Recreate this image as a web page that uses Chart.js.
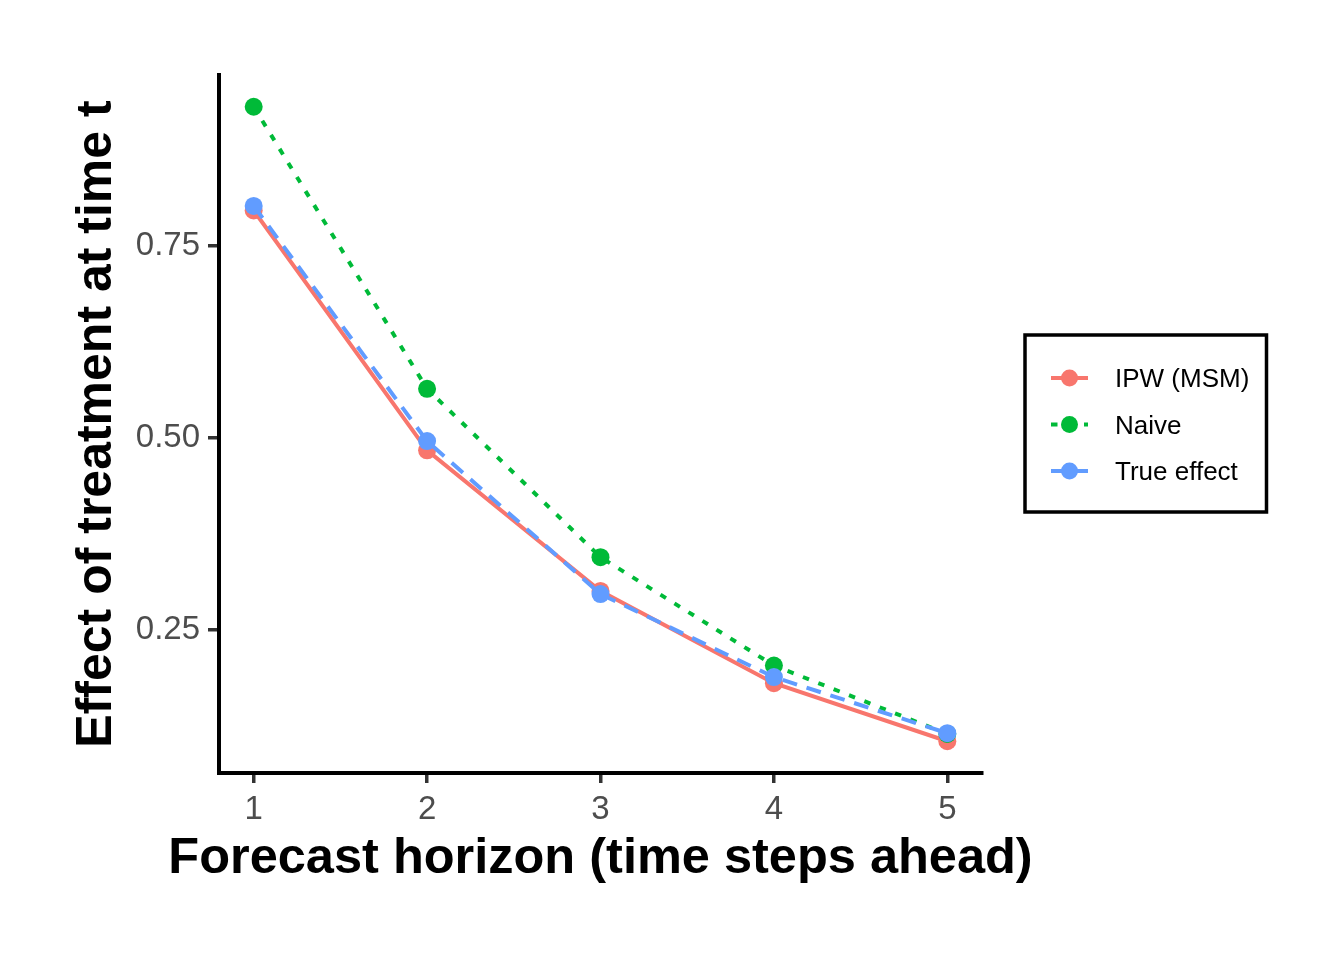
<!DOCTYPE html>
<html>
<head>
<meta charset="utf-8">
<script src="https://cdn.jsdelivr.net/npm/chart.js@4.4.1/dist/chart.umd.min.js"></script>
<style>
  html, body { margin: 0; padding: 0; background: #fff; }
  canvas { display: block; }
</style>
</head>
<body>
<canvas id="chart" width="1344" height="960"></canvas>
<script>
// Data
const horizons = [1, 2, 3, 4, 5];
const ipwMsm = [0.796, 0.484, 0.301, 0.181, 0.1055];
const naive = [0.931, 0.564, 0.345, 0.204, 0.115];
const trueEffect = [0.802, 0.496, 0.297, 0.189, 0.116];

const seriesNames = ['IPW (MSM)', 'Naive', 'True effect'];
const xTicks = [1, 2, 3, 4, 5];
const yTicks = [0.25, 0.50, 0.75];
const xTitle = 'Forecast horizon (time steps ahead)';
const yTitle = 'Effect of treatment at time t';

// Styling
const FONT = '"Liberation Sans", Arial, sans-serif';
const COLORS = ['#F8766D', '#00BA38', '#619CFF'];
const DASHES = [[], [6.5, 10], [15, 10]];
const LINE_W = 4;

function toPoints(values) {
  return horizons.map((h, i) => ({ x: h, y: values[i] }));
}

function makeDataset(label, values, idx, order) {
  return {
    label: label,
    data: toPoints(values),
    borderColor: COLORS[idx],
    backgroundColor: COLORS[idx],
    borderWidth: LINE_W,
    borderDash: DASHES[idx],
    pointRadius: 9,
    pointBorderWidth: 0,
    pointBackgroundColor: COLORS[idx],
    tension: 0,
    order: order
  };
}

// x-axis title drawn by hand so Chart.js does not squeeze it to the axis width
const xTitlePlugin = {
  id: 'xTitlePlugin',
  afterDraw(chart) {
    const ctx = chart.ctx;
    const area = chart.chartArea;
    ctx.save();
    ctx.fillStyle = '#000';
    ctx.font = 'bold 50.5px ' + FONT;
    ctx.textAlign = 'center';
    ctx.textBaseline = 'middle';
    ctx.fillText(xTitle, (area.left + area.right) / 2, 859);
    ctx.restore();
  }
};

// Boxed legend on the right, like ggplot's legend with a border
const boxedLegend = {
  id: 'boxedLegend',
  afterDraw(chart) {
    const ctx = chart.ctx;
    ctx.save();
    ctx.strokeStyle = '#000';
    ctx.lineWidth = 3.5;
    ctx.strokeRect(1025, 335, 241.5, 177);
    seriesNames.forEach((name, i) => {
      const y = 378 + i * 46.5;
      ctx.strokeStyle = COLORS[i];
      ctx.lineWidth = LINE_W;
      ctx.setLineDash(DASHES[i]);
      ctx.beginPath();
      ctx.moveTo(1051, y);
      ctx.lineTo(1088, y);
      ctx.stroke();
      ctx.setLineDash([]);
      ctx.fillStyle = COLORS[i];
      ctx.beginPath();
      ctx.arc(1069.5, y, 8.5, 0, Math.PI * 2);
      ctx.fill();
      ctx.fillStyle = '#000';
      ctx.font = '26px ' + FONT;
      ctx.textBaseline = 'middle';
      ctx.textAlign = 'left';
      ctx.fillText(name, 1115, y + 2);
    });
    ctx.restore();
  }
};

const ctx = document.getElementById('chart').getContext('2d');
new Chart(ctx, {
  type: 'line',
  data: {
    datasets: [
      makeDataset(seriesNames[0], ipwMsm, 0, 2),
      makeDataset(seriesNames[1], naive, 1, 1),
      makeDataset(seriesNames[2], trueEffect, 2, 0)
    ]
  },
  options: {
    responsive: false,
    animation: false,
    layout: { padding: { left: 0, top: 75, right: 362, bottom: 0 } },
    plugins: {
      legend: { display: false },
      tooltip: { enabled: false }
    },
    scales: {
      x: {
        type: 'linear',
        min: 0.8,
        max: 5.2,
        afterBuildTicks: s => { s.ticks = xTicks.map(v => ({ value: v })); },
        afterFit: s => { s.height = 187; },
        ticks: {
          color: '#4D4D4D',
          font: { family: FONT, size: 33 },
          padding: 7,
          maxRotation: 0,
          callback: v => String(v)
        },
        grid: { drawOnChartArea: false, drawTicks: true, tickLength: 10, color: '#333333', lineWidth: 3.5 },
        border: { display: true, color: '#000', width: 4 }
      },
      y: {
        min: 0.0642,
        max: 0.9723,
        afterBuildTicks: s => { s.ticks = yTicks.map(v => ({ value: v })); },
        afterFit: s => { s.width = 219; },
        ticks: {
          color: '#4D4D4D',
          font: { family: FONT, size: 33 },
          padding: 8,
          callback: v => v.toFixed(2)
        },
        grid: { drawOnChartArea: false, drawTicks: true, tickLength: 11, color: '#333333', lineWidth: 3.5 },
        border: { display: true, color: '#000', width: 4 },
        title: {
          display: true,
          text: yTitle,
          color: '#000',
          font: { family: FONT, size: 50, weight: 'bold' },
          padding: { top: 67, bottom: 0 }
        }
      }
    }
  },
  plugins: [xTitlePlugin, boxedLegend]
});
</script>
</body>
</html>
